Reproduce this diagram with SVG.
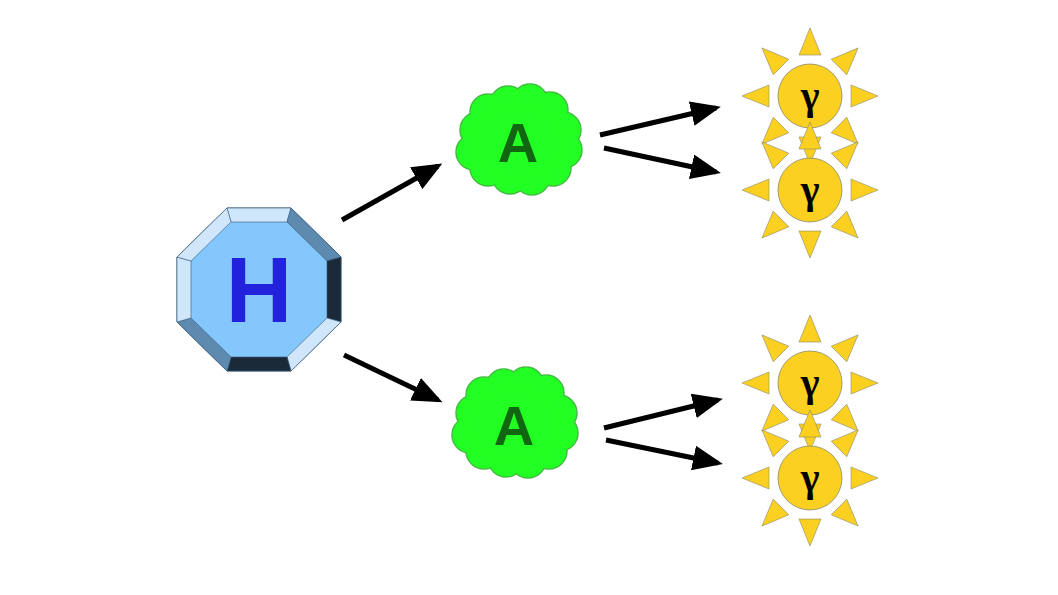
<svg xmlns="http://www.w3.org/2000/svg" xmlns:xlink="http://www.w3.org/1999/xlink" width="1058" height="595" viewBox="0 0 1058 595">
<style>
.ray{fill:#fcd021;stroke:#8a8a6a;stroke-width:0.6}
.disc{fill:#fcd021;stroke:#8a8a6a;stroke-width:0.8}
.g{font-family:"Liberation Serif",serif;font-weight:bold;font-size:40px;fill:#000;text-anchor:middle}
.cl{fill:#22ff22}
.cls{fill:#22ff22;stroke:#44bb44;stroke-width:1.5}
.A{font-family:"Liberation Sans",sans-serif;font-weight:bold;font-size:56px;fill:#116611;text-anchor:middle}
.con{stroke:#000;stroke-width:5;fill:none;marker-end:url(#ah)}
</style>
<defs>
<marker id="ah" markerWidth="6" markerHeight="5" refX="5" refY="2.5" orient="auto" markerUnits="strokeWidth"><path d="M0,0 L6,2.5 L0,5 z" fill="#000"/></marker>
<polygon id="r" class="ray" points="0,-68 -11,-41 11,-41"/>
<g id="sun">
<use xlink:href="#r"/><use xlink:href="#r" transform="rotate(45)"/><use xlink:href="#r" transform="rotate(90)"/><use xlink:href="#r" transform="rotate(135)"/><use xlink:href="#r" transform="rotate(180)"/><use xlink:href="#r" transform="rotate(225)"/><use xlink:href="#r" transform="rotate(270)"/><use xlink:href="#r" transform="rotate(315)"/>
<circle class="disc" r="32"/>
<text class="g" y="13">γ</text>
</g>
<g id="cloudS">
<circle cx="-40" cy="-12" r="18"/><circle cx="-30" cy="-30" r="18"/><circle cx="-10" cy="-38" r="18"/><circle cx="12" cy="-40" r="18"/><circle cx="32" cy="-32" r="18"/><circle cx="45" cy="-12" r="18"/><circle cx="46" cy="8" r="18"/><circle cx="35" cy="26" r="18"/><circle cx="14" cy="35" r="18"/><circle cx="-8" cy="34" r="18"/><circle cx="-30" cy="26" r="18"/><circle cx="-44" cy="10" r="18"/><ellipse rx="45" ry="36"/>
</g>
</defs>
<g id="connectors">
<line class="con" x1="342" y1="220" x2="438" y2="166"/>
<line class="con" x1="344" y1="355" x2="438" y2="400"/>
<line class="con" x1="600" y1="135" x2="716" y2="108"/>
<line class="con" x1="604" y1="148" x2="716" y2="172"/>
<line class="con" x1="604" y1="428" x2="718" y2="400"/>
<line class="con" x1="606" y1="440" x2="718" y2="463"/>
</g>
<g id="H">
<polygon points="227,208 291,208 341,257 341,322 291,371 227,371 177,322 177,257" fill="#84c7fd" stroke="#3a5a7a" stroke-width="1"/>
<polygon points="227,208 291,208 287,222 231,222" fill="#cfe6fb" stroke="#3a5a7a" stroke-width="0.6"/>
<polygon points="291,208 341,257 327,261 287,222" fill="#5f8ab0" stroke="#3a5a7a" stroke-width="0.6"/>
<polygon points="341,257 341,322 327,318 327,261" fill="#1b2a38" stroke="#3a5a7a" stroke-width="0.6"/>
<polygon points="341,322 291,371 287,357 327,318" fill="#cfe6fb" stroke="#3a5a7a" stroke-width="0.6"/>
<polygon points="291,371 227,371 231,357 287,357" fill="#1b2a38" stroke="#3a5a7a" stroke-width="0.6"/>
<polygon points="227,371 177,322 191,318 231,357" fill="#5f8ab0" stroke="#3a5a7a" stroke-width="0.6"/>
<polygon points="177,322 177,257 191,261 191,318" fill="#cfe6fb" stroke="#3a5a7a" stroke-width="0.6"/>
<polygon points="177,257 227,208 231,222 191,261" fill="#cfe6fb" stroke="#3a5a7a" stroke-width="0.6"/>
<text x="259" y="322" font-family="Liberation Sans,sans-serif" font-weight="bold" font-size="92" fill="#2222dd" text-anchor="middle">H</text>
</g>
<g id="A1" transform="translate(518,142)">
<use xlink:href="#cloudS" class="cls"/><use xlink:href="#cloudS" class="cl" transform="scale(0.985)"/>
<text class="A" y="20">A</text>
</g>
<g id="A2" transform="translate(514,425)">
<use xlink:href="#cloudS" class="cls"/><use xlink:href="#cloudS" class="cl" transform="scale(0.985)"/>
<text class="A" y="20">A</text>
</g>
<g id="g1" transform="translate(810,96)"><use xlink:href="#sun"/></g>
<g id="g2" transform="translate(810,190)"><use xlink:href="#sun"/></g>
<g id="g3" transform="translate(810,383)"><use xlink:href="#sun"/></g>
<g id="g4" transform="translate(810,478)"><use xlink:href="#sun"/></g>
</svg>
